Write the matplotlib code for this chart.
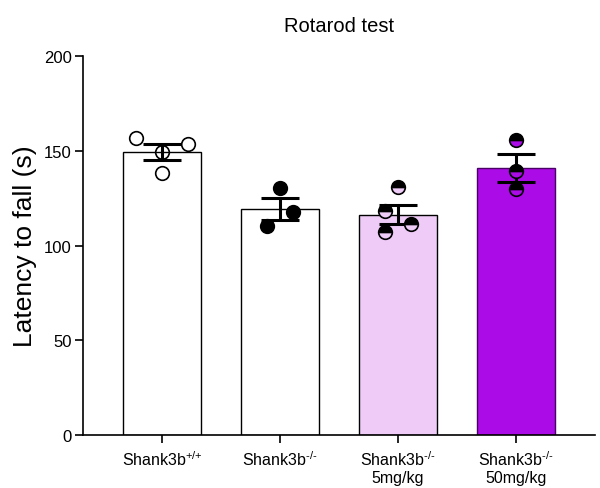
import matplotlib.pyplot as plt
import numpy as np

plt.rcParams['font.family'] = ['Liberation Sans', 'DejaVu Sans']
plt.rcParams['mathtext.fontset'] = 'custom'
plt.rcParams['mathtext.rm'] = 'Liberation Sans'
plt.rcParams['mathtext.default'] = 'regular'

# dados
grupos = ['Shank3b$^{\\text{+/+}}$', 'Shank3b$^{\\text{-/-}}$', 'Shank3b$^{\\text{-/-}}$\n5mg/kg', 'Shank3b$^{\\text{-/-}}$\n50mg/kg']
medias = [149.2, 119.3, 116.3, 140.9]
sem = [4.2, 5.8, 5.2, 7.6]
pontos_x = [[-0.22, 0.0, 0.22, 0.0], [0.0, 0.11, -0.11], [0.0, -0.11, 0.11, -0.11], [0.0, 0.0, 0.0]]
pontos_y = [[156.9, 149.5, 153.4, 138.1], [130.5, 117.5, 110.4], [131.0, 118.0, 111.3, 107.3], [155.7, 139.1, 129.8]]
cores = ['white', 'white', '#EECCF7', '#AA0BE6']
cores_borda = ['black', 'black', 'black', '#4B0066']

fig = plt.figure(figsize=(6, 4.89), dpi=100)
ax = fig.add_axes([0.1383, 0.1084, 0.8534, 0.775])

x = np.arange(len(grupos))
ax.bar(x, medias, width=0.66, color=cores, edgecolor=cores_borda, linewidth=1.0, zorder=1)
ax.errorbar(x, medias, yerr=sem, fmt='none', ecolor='black', elinewidth=2.2, capsize=14, capthick=2.2, zorder=3)

for i in range(len(grupos)):
    px = [x[i] + d for d in pontos_x[i]]
    if i == 0:
        ax.plot(px, pontos_y[i], 'o', ms=9.8, mfc='none', mec='black', mew=1.2, zorder=2)
    elif i == 1:
        ax.plot(px, pontos_y[i], 'o', ms=9.8, mfc='black', mec='black', mew=1.2, zorder=4)
    else:
        ax.plot(px, pontos_y[i], 'o', ms=9.8, fillstyle='top', mfc='black', mfcalt=cores[i], mec='black', mew=1.2, zorder=4)

ax.set_xlim(-0.67, 3.67)
ax.set_ylim(0, 200)
ax.set_yticks([0, 50, 100, 150, 200])
ax.set_xticks(x)
ax.set_xticklabels(grupos, fontsize=11.5)
ax.tick_params(axis='y', labelsize=12, length=6, width=1.2, pad=2)
ax.tick_params(axis='x', length=6, width=1.2, pad=4)
ax.spines['top'].set_visible(False)
ax.spines['right'].set_visible(False)
ax.spines['left'].set_linewidth(1.2)
ax.spines['bottom'].set_linewidth(1.2)
ax.set_ylabel('Latency to fall (s)', fontsize=19, labelpad=5)
ax.set_title('Rotarod test', fontsize=14.5, pad=18)

plt.savefig('out.png', dpi=100)
